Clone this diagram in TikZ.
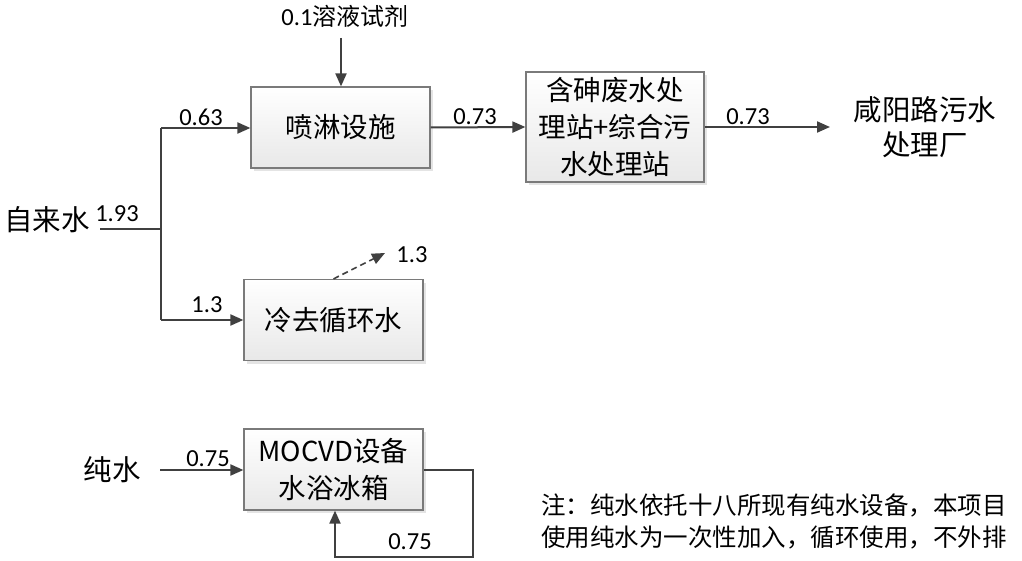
\documentclass[tikz,border=0pt]{standalone}
\usepackage{fontspec}
\setmainfont{Carlito}
\newfontfamily\cjk{Noto Sans CJK SC}
\usetikzlibrary{arrows.meta,shadows}
\definecolor{ln}{HTML}{404040}
\definecolor{bd}{HTML}{7A7A7A}
\tikzset{
  box/.style={draw=bd, line width=1.2pt, top color=white, bottom color=gray!18,
    drop shadow={shadow xshift=3pt, shadow yshift=-3pt, fill=gray!35, opacity=0.6},
    minimum width=179pt, minimum height=81pt, align=center, inner sep=0pt,
    font=\fontsize{27.5}{37}\cjk},
  flow/.style={draw=ln, line width=2pt, -{Triangle[length=13pt,width=11pt]}},
  plain/.style={draw=ln, line width=2pt},
  num/.style={font=\fontsize{24.5}{28}\selectfont, text=black, inner sep=0pt},
  zh/.style={font=\fontsize{28.5}{35}\cjk, text=black, inner sep=0pt, align=center},
  note/.style={font=\fontsize{24.5}{32}\cjk, text=black, inner sep=0pt, align=left}
}
\begin{document}
\begin{tikzpicture}[x=1pt,y=-1pt]
\useasboundingbox (0,0) rectangle (1022,561);
% boxes
\node[box] (pl) at (340.5,127.5) {喷淋设施};
\node[box, minimum width=178pt, minimum height=110pt] (hs) at (615,127) {含砷废水处\\理站{\fontsize{27.5}{37}\selectfont+}综合污\\水处理站};
\node[box] (lq) at (333.5,320) {冷去循环水};
\node[box] (mo) at (333.5,469.5) {{\fontsize{27.5}{37}\selectfont MOCVD}设备\\水浴冰箱};
% text labels
\node[zh] (zls) at (47,220) {自来水};
\node[zh] (xy) at (925,127) {咸阳路污水\\处理厂};
\node[zh] (cs) at (112,470) {纯水};
\node[num] (rj) at (345,16) {0.1{\fontsize{24}{28}\cjk 溶液试剂}};
\node[note, anchor=west] (nt) at (541,521) {注：纯水依托十八所现有纯水设备，本项目\\使用纯水为一次性加入，循环使用，不外排};
% coordinates
\coordinate (s0) at (100,229);
\coordinate (s1) at (161,229);
\coordinate (up) at (161,128);
\coordinate (dn) at (161,320);
\coordinate (rt) at (341,38);
\coordinate (out) at (830,127);
\coordinate (ev) at (385,253);
\coordinate (cs0) at (160,470);
\coordinate (l1) at (473,469.5);
\coordinate (l2) at (473,557);
\coordinate (l3) at (335,557);
% connectors
\draw[plain] (s0) -- (s1);
\draw[plain] (up) -- (dn);
\draw[flow] (up) -- (pl.west |- up);
\draw[flow] (dn) -- (lq.west |- dn);
\draw[flow] (rt) -- (pl.north -| rt);
\draw[flow] (pl.east) -- (hs.west);
\draw[flow] (hs.east) -- (out);
\draw[flow, line width=1.6pt, dashed, dash pattern=on 6pt off 4pt] (lq.north) -- (ev);
\draw[flow] (cs0) -- (mo.west |- cs0);
\draw[flow] (mo.east) -- (l1) -- (l2) -- (l3) -- (mo.south -| l3);
% numbers
\node[num] (n063) at (201,117) {0.63};
\node[num] (n073a) at (475,117) {0.73};
\node[num] (n073b) at (748,117) {0.73};
\node[num] (n193) at (117,214) {1.93};
\node[num] (n13a) at (207,305) {1.3};
\node[num] (n13b) at (412,255) {1.3};
\node[num] (n075a) at (208,459) {0.75};
\node[num] (n075b) at (410,542) {0.75};
\end{tikzpicture}
\end{document}
